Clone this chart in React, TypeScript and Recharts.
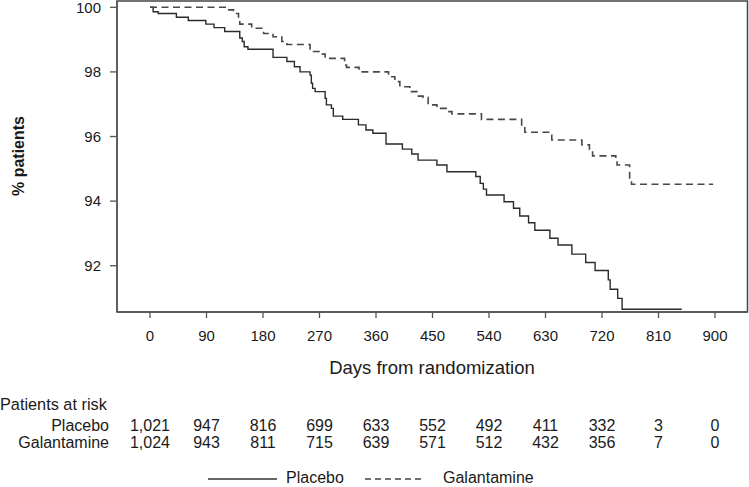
import React from 'react';
import { LineChart, Line, XAxis, YAxis, Legend, ReferenceArea, Label } from 'recharts';

// x axis ticks (days) and y axis ticks (%)
const dayTicks = [0, 90, 180, 270, 360, 450, 540, 630, 720, 810, 900];
const pctTicks = [92, 94, 96, 98, 100];

// patients at risk, one per day tick
const atRiskPlacebo = ['1,021', '947', '816', '699', '633', '552', '492', '411', '332', '3', '0'];
const atRiskGalantamine = ['1,024', '943', '811', '715', '639', '571', '512', '432', '356', '7', '0'];

// Kaplan-Meier steps (day where the new level starts, level in %)
const placeboDays = [
  0, 5, 13, 42, 61, 89, 102, 119, 143, 147, 150, 156, 196, 218, 230, 239, 255, 257, 259, 263,
  279, 281, 289, 292, 307, 332, 344, 355, 376, 402, 417, 427, 457, 473, 519, 526, 531, 536,
  564, 579, 589, 603, 613, 637, 650, 672, 694, 709, 730, 733, 745, 752, 847,
];
const placeboPct = [
  100, 99.86, 99.81, 99.69, 99.59, 99.48, 99.37, 99.25, 99.05, 98.94, 98.78, 98.7, 98.45, 98.32,
  98.16, 98.0, 97.9, 97.65, 97.49, 97.39, 97.18, 96.98, 96.87, 96.63, 96.53, 96.36, 96.2, 96.1,
  95.77, 95.61, 95.46, 95.27, 95.12, 94.91, 94.76, 94.55, 94.37, 94.19, 93.98, 93.78, 93.54,
  93.33, 93.1, 92.85, 92.64, 92.36, 92.1, 91.85, 91.56, 91.27, 90.99, 90.65, 90.65,
];

const galantamineDays = [
  0, 122, 133, 141, 143, 162, 181, 196, 210, 218, 255, 271, 279, 310, 313, 333, 380, 390, 398,
  414, 425, 435, 443, 457, 473, 481, 528, 592, 597, 640, 688, 700, 705, 742, 744, 764, 767, 897,
];
const galantaminePct = [
  100, 99.92, 99.81, 99.61, 99.48, 99.35, 99.19, 99.09, 98.94, 98.85, 98.63, 98.55, 98.42, 98.21,
  98.14, 98.0, 97.85, 97.7, 97.54, 97.39, 97.25, 97.21, 96.98, 96.87, 96.77, 96.7, 96.53, 96.3,
  96.13, 95.89, 95.74, 95.58, 95.4, 95.36, 95.12, 94.65, 94.52, 94.52,
];

const placeboData = placeboDays.map((day, i) => ({ day, pct: placeboPct[i] }));
const galantamineData = galantamineDays.map((day, i) => ({ day, pct: galantaminePct[i] }));

const X_MIN = -52.57;
const X_MAX = 951.77;
const Y_MIN = 90.567;
const Y_MAX = 100.195;

const FONT = '"Liberation Sans", Arial, sans-serif';
const INK = '#1a1a1a';

const DayTick = (props: any) => {
  const { x, y, payload, index } = props;
  return (
    <g fontFamily={FONT} fill={INK} textAnchor="middle">
      <text x={x} y={y + 23} fontSize={15}>{payload.value}</text>
      <text x={x} y={y + 112.5} fontSize={16}>{atRiskPlacebo[index]}</text>
      <text x={x} y={y + 130.3} fontSize={16}>{atRiskGalantamine[index]}</text>
    </g>
  );
};

const AxisTexts = () => (
  <g fontFamily={FONT} fill={INK}>
    <text x={432} y={374} fontSize={18.5} textAnchor="middle">Days from randomization</text>
    <text x={0} y={410} fontSize={16.3} textAnchor="start">Patients at risk</text>
    <text x={109} y={430.5} fontSize={16} textAnchor="end">Placebo</text>
    <text x={109} y={448.3} fontSize={16} textAnchor="end">Galantamine</text>
  </g>
);

const YTitle = () => (
  <text
    x={18}
    y={156}
    transform="rotate(-90 18 156)"
    textAnchor="middle"
    dominantBaseline="central"
    fontFamily={FONT}
    fontSize={16}
    fontWeight="bold"
    fill={INK}
  >
    % patients
  </text>
);

const LegendBox = () => (
  <svg width={340} height={18} style={{ display: 'block', overflow: 'visible' }}>
    <line x1={0} y1={10} x2={69} y2={10} stroke="#333" strokeWidth={1.3} />
    <text x={78} y={13.5} fontFamily={FONT} fontSize={16} fill={INK}>Placebo</text>
    <line x1={157} y1={10} x2={217} y2={10} stroke="#444" strokeWidth={1.3} strokeDasharray="6 4" />
    <text x={235} y={13.5} fontFamily={FONT} fontSize={16} fill={INK}>Galantamine</text>
  </svg>
);

export default function App() {
  return (
    <div style={{ position: 'absolute', left: 0, top: 0, fontFamily: FONT }}>
      <LineChart width={749} height={487} margin={{ top: 1, right: 1.5, left: 0, bottom: 0 }}>
        <XAxis
          dataKey="day"
          type="number"
          domain={[X_MIN, X_MAX]}
          ticks={dayTicks}
          allowDataOverflow
          height={175}
          tickSize={6}
          tickMargin={0}
          tick={<DayTick />}
          stroke="#555"
          strokeWidth={1.3}
          interval={0}
        >
          <Label content={<AxisTexts />} />
        </XAxis>
        <YAxis
          dataKey="pct"
          type="number"
          domain={[Y_MIN, Y_MAX]}
          ticks={pctTicks}
          allowDataOverflow
          width={117}
          tickSize={7}
          tickMargin={9}
          tick={{ fontSize: 15, fill: INK, fontFamily: FONT }}
          stroke="#555"
          strokeWidth={1.3}
          interval={0}
        >
          <Label content={<YTitle />} />
        </YAxis>
        <ReferenceArea
          x1={X_MIN}
          x2={X_MAX}
          y1={Y_MIN}
          y2={Y_MAX}
          fill="none"
          stroke="#444"
          strokeWidth={1.5}
          ifOverflow="visible"
        />
        <Line
          data={placeboData}
          dataKey="pct"
          name="Placebo"
          type="stepAfter"
          stroke="#2a2a2a"
          strokeWidth={1.4}
          dot={false}
          isAnimationActive={false}
        />
        <Line
          data={galantamineData}
          dataKey="pct"
          name="Galantamine"
          type="stepAfter"
          stroke="#484848"
          strokeWidth={1.6}
          strokeDasharray="7 4.5"
          dot={false}
          isAnimationActive={false}
        />
        <Legend
          layout="horizontal"
          verticalAlign="middle"
          align="center"
          content={<LegendBox />}
          wrapperStyle={{ position: 'absolute', left: 208, top: 469, width: 340, height: 18 }}
        />
      </LineChart>
    </div>
  );
}
